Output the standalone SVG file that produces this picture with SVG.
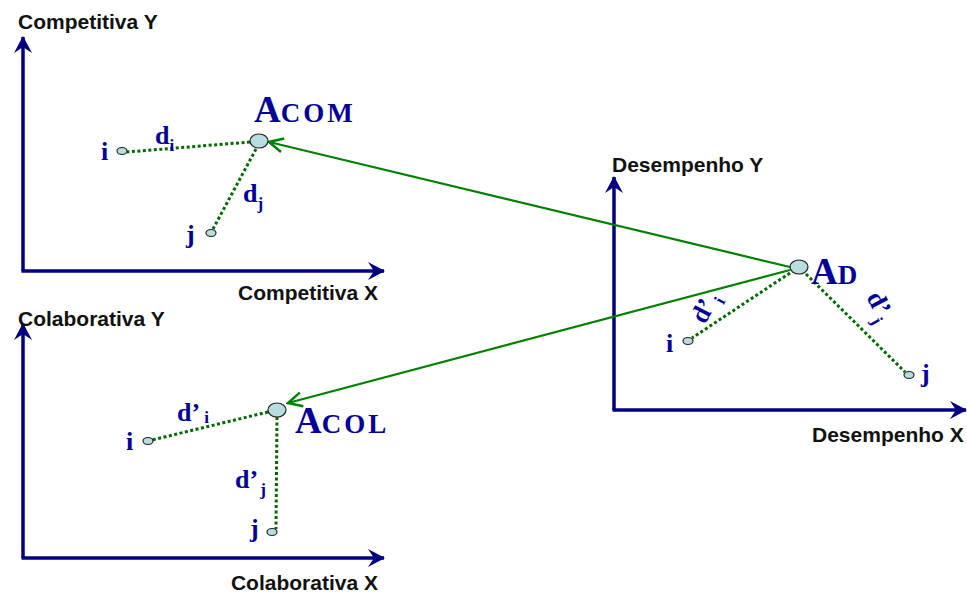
<svg xmlns="http://www.w3.org/2000/svg" width="967" height="597" viewBox="0 0 967 597">
<defs>
<marker id="ax" markerWidth="20" markerHeight="20" refX="16" refY="10" orient="auto" markerUnits="userSpaceOnUse">
<path d="M0,1 L17,10 L0,19 L6,10 Z" fill="#000080"/>
</marker>
<marker id="gr" markerWidth="20" markerHeight="20" refX="15" refY="10" orient="auto" markerUnits="userSpaceOnUse">
<path d="M1,3 L15,10 L1,17" fill="none" stroke="#008000" stroke-width="2.5"/>
</marker>
</defs>
<style>
.axis{stroke:#000080;stroke-width:3.5;fill:none}
.alab{font-family:"Liberation Sans",Arial,sans-serif;font-weight:bold;font-size:21px;fill:#111}
.dot{stroke:#006a00;stroke-width:3;stroke-dasharray:3 2.5;fill:none}
.conn{stroke:#008000;stroke-width:2.2;fill:none}
.pt{fill:#b8dde0;stroke:#222;stroke-width:1.2}
.t{font-family:"Liberation Serif","Times New Roman",serif;font-weight:bold;fill:#000099}
.big{font-size:37px}
.sc{font-size:27px;letter-spacing:3px}
.lbl{font-size:26px}
.sub{font-size:17px}
</style>
<rect width="967" height="597" fill="#fff"/>

<g id="axes-competitiva">
<path class="axis" d="M23,271 L23,37" marker-end="url(#ax)"/>
<path class="axis" d="M21.5,271 L384,271" marker-end="url(#ax)"/>
<text class="alab" x="18" y="29">Competitiva Y</text>
<text class="alab" x="378" y="300" text-anchor="end">Competitiva X</text>
</g>

<g id="axes-colaborativa">
<path class="axis" d="M23,558 L23,324" marker-end="url(#ax)"/>
<path class="axis" d="M21.5,558 L384,558" marker-end="url(#ax)"/>
<text class="alab" x="18" y="326">Colaborativa Y</text>
<text class="alab" x="378" y="590" text-anchor="end">Colaborativa X</text>
</g>

<g id="axes-desempenho">
<path class="axis" d="M614,410 L614,177" marker-end="url(#ax)"/>
<path class="axis" d="M612.5,410 L966,410" marker-end="url(#ax)"/>
<text class="alab" x="612" y="172">Desempenho Y</text>
<text class="alab" x="812" y="442">Desempenho X</text>
</g>

<g id="connectors">
<line class="conn" x1="790" y1="267" x2="269" y2="142" marker-end="url(#gr)"/>
<line class="conn" x1="790" y1="270" x2="288" y2="403" marker-end="url(#gr)"/>
<line class="dot" x1="250" y1="142" x2="127" y2="152"/>
<line class="dot" x1="256" y1="149" x2="213" y2="229"/>
<line class="dot" x1="790" y1="273" x2="692" y2="338"/>
<line class="dot" x1="806" y1="274" x2="905" y2="372"/>
<line class="dot" x1="268" y1="412" x2="152" y2="440"/>
<line class="dot" x1="277" y1="417" x2="276" y2="529"/>
</g>

<g id="node-acom">
<ellipse class="pt" cx="259" cy="141" rx="9" ry="7"/>
<text class="t" x="254" y="122"><tspan class="big">A</tspan><tspan class="sc">COM</tspan></text>
</g>
<g id="node-com-i">
<ellipse class="pt" cx="122" cy="151" rx="5" ry="3.5"/>
<text class="t lbl" x="101" y="160">i</text>
<text class="t lbl" x="155" y="144">d<tspan class="sub" dy="7">i</tspan></text>
</g>
<g id="node-com-j">
<ellipse class="pt" cx="211" cy="233" rx="5" ry="3.5"/>
<text class="t lbl" x="186" y="243">j</text>
<text class="t lbl" x="243" y="202">d<tspan class="sub" dy="7">j</tspan></text>
</g>

<g id="node-ad">
<ellipse class="pt" cx="799" cy="267" rx="9" ry="7"/>
<text class="t" x="811" y="284"><tspan class="big">A</tspan><tspan class="sc">D</tspan></text>
</g>
<g id="node-d-i">
<ellipse class="pt" cx="688" cy="341" rx="5" ry="3.5"/>
<text class="t lbl" x="666" y="352">i</text>
<text class="t lbl" transform="translate(705,325) rotate(-62)">d’<tspan class="sub" dx="3" dy="7">i</tspan></text>
</g>
<g id="node-d-j">
<ellipse class="pt" cx="909" cy="375" rx="5" ry="3.5"/>
<text class="t lbl" x="921" y="382">j</text>
<text class="t lbl" transform="translate(866,297) rotate(62)">d’<tspan class="sub" dy="7">j</tspan></text>
</g>

<g id="node-acol">
<ellipse class="pt" cx="277" cy="410" rx="9" ry="7"/>
<text class="t" x="295" y="433"><tspan class="big">A</tspan><tspan class="sc">COL</tspan></text>
</g>
<g id="node-col-i">
<ellipse class="pt" cx="148" cy="441" rx="5" ry="3.5"/>
<text class="t lbl" x="126" y="450">i</text>
<text class="t lbl" x="177" y="421">d’<tspan class="sub" dx="4" dy="2">i</tspan></text>
</g>
<g id="node-col-j">
<ellipse class="pt" cx="272" cy="532" rx="5" ry="3.5"/>
<text class="t lbl" x="250" y="537">j</text>
<text class="t lbl" x="235" y="488">d’<tspan class="sub" dx="2" dy="7">j</tspan></text>
</g>
</svg>
